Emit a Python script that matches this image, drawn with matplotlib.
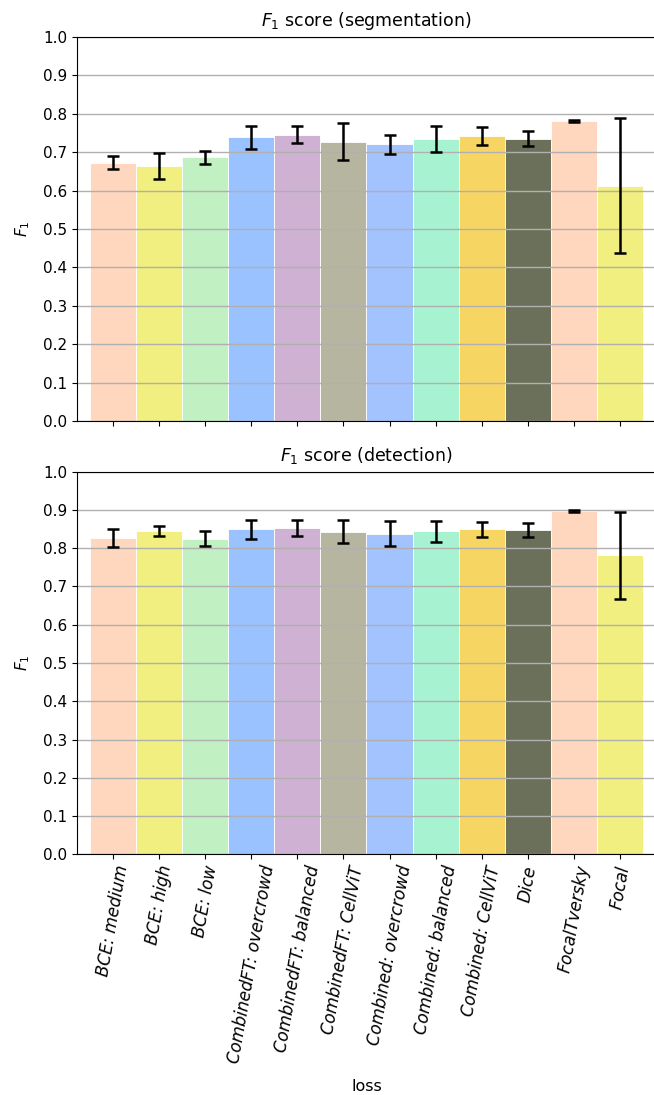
import numpy as np
import matplotlib
matplotlib.use("Agg")
import matplotlib.pyplot as plt

losses = ["BCE: medium", "BCE: high", "BCE: low",
          "CombinedFT: overcrowd", "CombinedFT: balanced", "CombinedFT: CellViT",
          "Combined: overcrowd", "Combined: balanced", "Combined: CellViT",
          "Dice", "FocalTversky", "Focal"]

seg_mean = [0.672, 0.663, 0.687, 0.739, 0.745, 0.727, 0.720, 0.734, 0.741, 0.735, 0.781, 0.613]
seg_err = [0.017, 0.034, 0.017, 0.030, 0.022, 0.048, 0.024, 0.034, 0.023, 0.020, 0.002, 0.175]

det_mean = [0.827, 0.846, 0.825, 0.849, 0.853, 0.843, 0.838, 0.844, 0.849, 0.847, 0.897, 0.781]
det_err = [0.023, 0.013, 0.020, 0.026, 0.022, 0.030, 0.033, 0.028, 0.019, 0.018, 0.002, 0.114]

colors = ["#FFD7BE", "#F0EF80", "#C1F0C2", "#99C2FE", "#CFB2D3", "#B5B5A0",
          "#A2C3FE", "#A7F2D1", "#F6D563", "#6B705A", "#FFD7BE", "#F0EF80"]

W, H = 654, 1095
fig = plt.figure(figsize=(W / 100, H / 100), dpi=100)

left = 77.3 / W
width = (655.6 - 77.3) / W
ax1 = fig.add_axes([left, 1 - 421.3 / H, width, (421.3 - 36.7) / H])
ax2 = fig.add_axes([left, 1 - 854.3 / H, width, (854.3 - 471.7) / H])

x = np.arange(len(losses))

for ax, mean, err, title in [(ax1, seg_mean, seg_err, "$F_1$ score (segmentation)"),
                             (ax2, det_mean, det_err, "$F_1$ score (detection)")]:
    ax.bar(x, mean, width=1.0, color=colors, edgecolor="white", linewidth=0.6)
    ax.errorbar(x, mean, yerr=err, fmt="none", ecolor="black", elinewidth=1.8,
                capsize=4.2, capthick=1.8)
    ax.set_ylim(0, 1.0)
    ax.set_yticks(np.arange(0, 1.01, 0.1))
    ax.set_xlim(-0.766, 11.766)
    ax.yaxis.grid(True, color="#b0b0b0", linewidth=1.0)
    ax.set_ylabel("$F_1$", fontsize=11, labelpad=8)
    ax.set_title(title, fontsize=12.5, pad=8)
    ax.tick_params(labelsize=11)
    ax.set_xticks(x)

ax1.set_xticklabels([])
ax2.set_xticklabels(losses, rotation=80, fontsize=12, fontstyle="italic")
ax2.set_xlabel("loss", fontsize=11.5, labelpad=10)

fig.savefig("out.png", dpi=100)
